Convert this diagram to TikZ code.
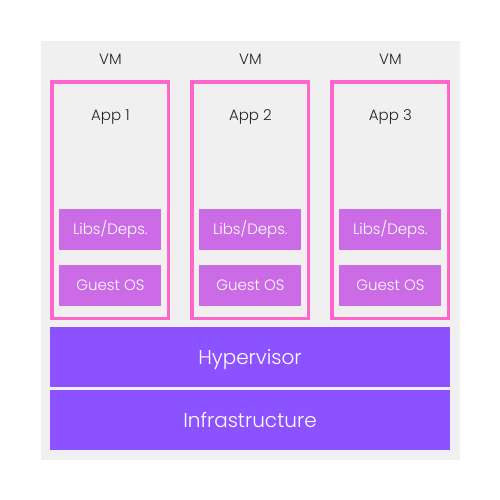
\documentclass[tikz,border=0pt]{standalone}
\usepackage{fontspec}
\setmainfont{Poppins}[UprightFont=* Light]
\usepackage{xcolor}
\usepackage{tikz}
\usetikzlibrary{positioning}
\definecolor{VMPink}{RGB}{255,102,204}
\definecolor{LibPurple}{RGB}{203,108,230}
\definecolor{HvPurple}{RGB}{140,82,255}
\definecolor{PanelGray}{RGB}{240,240,240}

\begin{document}
\begin{tikzpicture}[x=1pt,y=-1pt]
	\tikzset{
		smalltext/.style={text height=10.5pt, text depth=0pt, font=\fontsize{15}{18}\selectfont},
		vmbox/.style={
			draw=VMPink,
			line width=3.5pt,
			minimum width=116.5pt,
			minimum height=236.8pt,
			inner sep=0pt
		},
		vmlabel/.style={smalltext, text=black!85},
		applabel/.style={smalltext, text=black!85},
		layerbox/.style={
			smalltext,
			fill=LibPurple,
			minimum width=102pt,
			minimum height=41pt,
			inner sep=0pt,
			text=white
		},
		hostbox/.style={
			text height=14pt, text depth=0pt,
			fill=HvPurple,
			minimum width=400pt,
			minimum height=60pt,
			inner sep=0pt,
			text=white,
			font=\fontsize{20}{24}\selectfont
		}
	}
	\useasboundingbox (0,0) rectangle (500,500);
	% panel
	\fill[PanelGray] (41,41) rectangle (460,460);

	% the three VMs
	\node[vmbox] (vm1) at (110.4,200.3) {};
	\node[vmbox] (vm2) at (250.4,200.3) {};
	\node[vmbox] (vm3) at (390.4,200.3) {};

	\node[vmlabel] (vm1label) at (110.4,59.7) {VM};
	\node[vmlabel] (vm2label) at (250.4,59.7) {VM};
	\node[vmlabel] (vm3label) at (390.4,59.7) {VM};

	\node[applabel] (app1) at (110.4,115.3) {App 1};
	\node[applabel] (app2) at (250.4,115.3) {App 2};
	\node[applabel] (app3) at (390.4,115.3) {App 3};

	\node[layerbox] (libs1) at (110.4,229.5) {Libs/Deps.};
	\node[layerbox] (libs2) at (250.4,229.5) {Libs/Deps.};
	\node[layerbox] (libs3) at (390.4,229.5) {Libs/Deps.};

	\node[layerbox] (os1) at (110.4,285.5) {Guest OS};
	\node[layerbox] (os2) at (250.4,285.5) {Guest OS};
	\node[layerbox] (os3) at (390.4,285.5) {Guest OS};

	% shared layers
	\node[hostbox] (hyper) at (250,357) {Hypervisor};
	\node[hostbox] (infra) at (250,420) {Infrastructure};
\end{tikzpicture}
\end{document}
